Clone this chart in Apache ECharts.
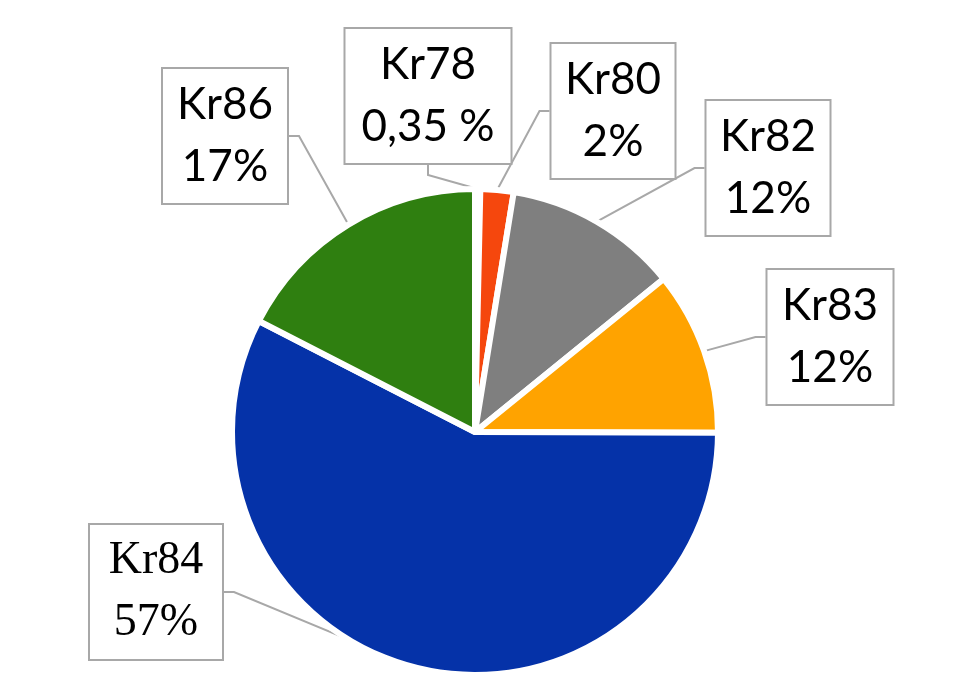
<!DOCTYPE html>
<html>
<head>
<meta charset="utf-8">
<script src="https://cdn.jsdelivr.net/npm/echarts@6/dist/echarts.min.js"></script>
<style>
html,body{margin:0;padding:0;background:#fff;}
#chart{width:980px;height:683px;}
</style>
</head>
<body>
<div id="chart"></div>
<script>
// Data
var isotopes = ['Kr78', 'Kr80', 'Kr82', 'Kr83', 'Kr84', 'Kr86'];
var shares = [0.35, 2.2, 11.6, 10.9, 57.5, 17.45];
var shareLabels = ['0,35 %', '2%', '12%', '12%', '57%', '17%'];

// Styles / layout (kept separate from data)
var colors = ['#ffffff', '#f5470d', '#7f7f7f', '#ffa300', '#0532a8', '#2f7f10'];
var boxCenters = [[428, 96], [613, 111], [768, 168], [830, 337], [156, 592], [225, 136]];
var boxWidths = [155, 113, 113, 115, 122, 114];
var fonts = ['Lato', 'Lato', 'Lato', 'Lato', 'Liberation Serif', 'Lato'];
var fontSizes = [44, 44, 44, 44, 46, 44];

var data = isotopes.map(function (n, i) {
  return {
    name: n,
    value: shares[i],
    itemStyle: { color: colors[i] },
    label: {
      width: boxWidths[i],
      fontFamily: fonts[i],
      fontSize: fontSizes[i]
    }
  };
});

var chart = echarts.init(document.getElementById('chart'));
chart.setOption({
  backgroundColor: '#ffffff',
  animation: false,
  series: [{
    type: 'pie',
    center: [475, 432],
    radius: 243,
    startAngle: 90,
    clockwise: true,
    data: data,
    itemStyle: { borderColor: '#ffffff', borderWidth: 6 },
    label: {
      show: true,
      formatter: function (p) { return p.name + '\n' + shareLabels[p.dataIndex]; },
      color: '#000',
      fontSize: 44,
      lineHeight: 62,
      align: 'center',
      backgroundColor: '#ffffff',
      borderColor: '#a8a8a8',
      borderWidth: 2,
      padding: [5, 5, 5, 5]
    },
    labelLine: {
      show: true,
      length: 10,
      length2: 10,
      lineStyle: { color: '#a8a8a8', width: 2 }
    },
    labelLayout: function (params) {
      var c = boxCenters[params.dataIndex];
      return { x: c[0], y: c[1], align: 'center', verticalAlign: 'middle' };
    },
    emphasis: { disabled: true }
  }]
});
</script>
</body>
</html>
